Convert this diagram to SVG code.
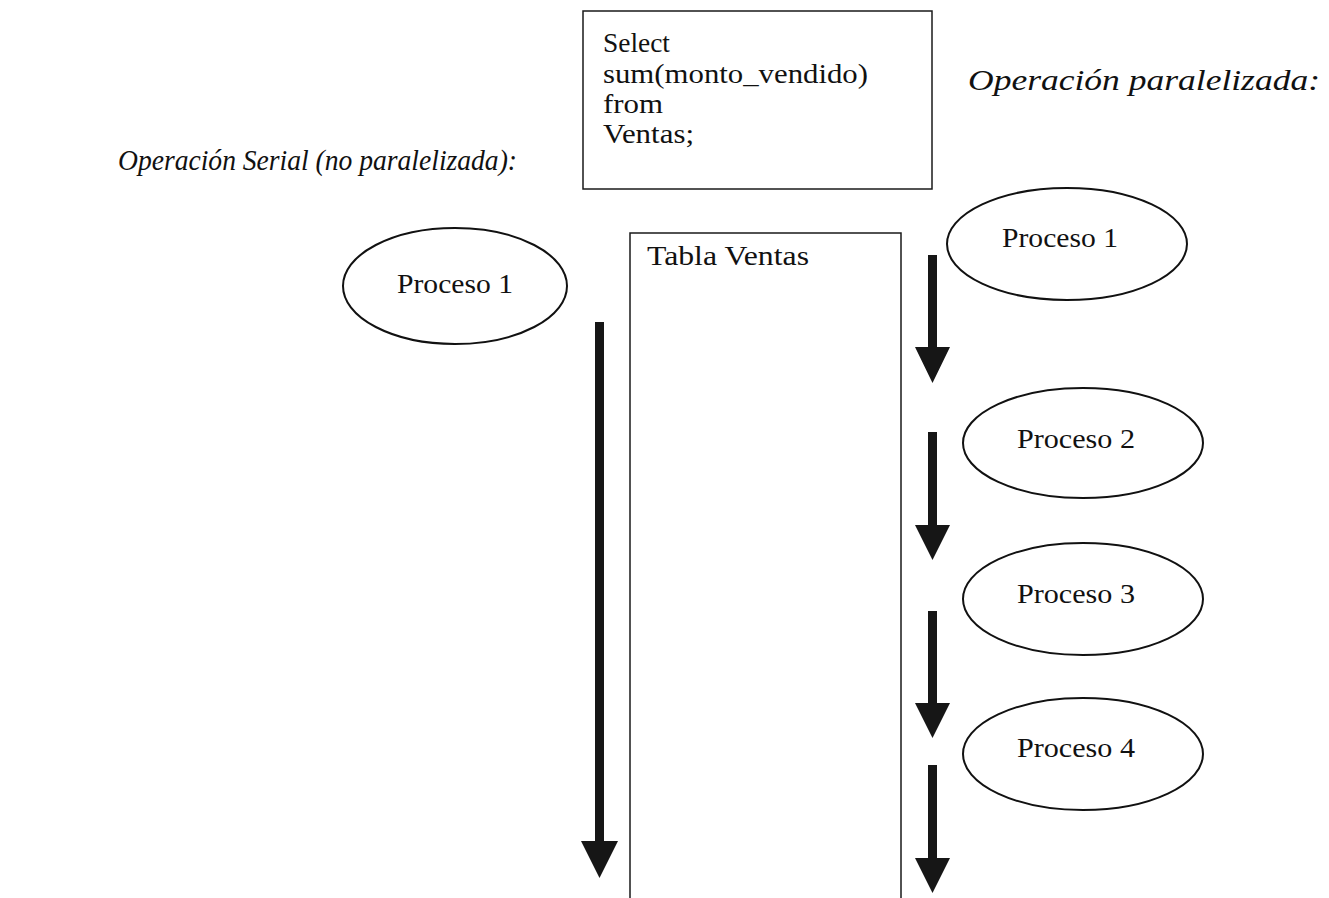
<svg xmlns="http://www.w3.org/2000/svg" width="1329" height="898" viewBox="0 0 1329 898">
<style>
  .box { fill: #fff; stroke: #1a1a1a; stroke-width: 1.5; }
  .ell { fill: #fff; stroke: #111; stroke-width: 2; }
  .txt { font-family: "Liberation Serif", "DejaVu Serif", serif; font-size: 27px; fill: #111; }
  .lbl { font-family: "Liberation Serif", "DejaVu Serif", serif; font-size: 27px; fill: #111; text-anchor: middle; }
  .ttl { font-family: "Liberation Serif", "DejaVu Serif", serif; font-size: 30px; font-style: italic; fill: #111; }
  .arr { fill: #161616; }
</style>
<rect width="1329" height="898" fill="#fff"/>
<g id="title-serial"><text class="ttl" x="118" y="170" textLength="399" lengthAdjust="spacingAndGlyphs">Operación Serial (no paralelizada):</text></g>
<g id="title-paralela"><text class="ttl" x="968" y="90" textLength="352" lengthAdjust="spacingAndGlyphs">Operación paralelizada:</text></g>
<g id="query">
  <rect class="box" x="583" y="11" width="349" height="178"/>
  <text class="txt" x="603" y="52" textLength="67" lengthAdjust="spacingAndGlyphs">Select</text>
  <text class="txt" x="603" y="83" textLength="265" lengthAdjust="spacingAndGlyphs">sum(monto_vendido)</text>
  <text class="txt" x="603" y="113" textLength="60" lengthAdjust="spacingAndGlyphs">from</text>
  <text class="txt" x="603" y="143" textLength="91" lengthAdjust="spacingAndGlyphs">Ventas;</text>
</g>
<g id="tabla">
  <path class="box" d="M630,898 V233 H901 V898"/>
  <text class="txt" x="647" y="265" textLength="162" lengthAdjust="spacingAndGlyphs">Tabla Ventas</text>
</g>
<g id="serial-p1">
  <ellipse class="ell" cx="455" cy="286" rx="112" ry="58"/>
  <text class="lbl" x="455" y="293" textLength="116" lengthAdjust="spacingAndGlyphs">Proceso 1</text>
</g>
<g id="par-p1">
  <ellipse class="ell" cx="1067" cy="244" rx="120" ry="56"/>
  <text class="lbl" x="1060" y="247" textLength="116" lengthAdjust="spacingAndGlyphs">Proceso 1</text>
</g>
<g id="par-p2">
  <ellipse class="ell" cx="1083" cy="443" rx="120" ry="55"/>
  <text class="lbl" x="1076" y="448" textLength="118" lengthAdjust="spacingAndGlyphs">Proceso 2</text>
</g>
<g id="par-p3">
  <ellipse class="ell" cx="1083" cy="599" rx="120" ry="56"/>
  <text class="lbl" x="1076" y="603" textLength="118" lengthAdjust="spacingAndGlyphs">Proceso 3</text>
</g>
<g id="par-p4">
  <ellipse class="ell" cx="1083" cy="754" rx="120" ry="56"/>
  <text class="lbl" x="1076" y="757" textLength="118" lengthAdjust="spacingAndGlyphs">Proceso 4</text>
</g>
<g id="connectors">
  <path class="arr" d="M595,322 H604 V841 H618 L599.5,878 L581,841 H595 Z"/>
  <path class="arr" d="M928,255 H937 V347 H950 L932.5,383 L915,347 H928 Z"/>
  <path class="arr" d="M928,432 H937 V525 H950 L932.5,560 L915,525 H928 Z"/>
  <path class="arr" d="M928,611 H937 V703 H950 L932.5,738 L915,703 H928 Z"/>
  <path class="arr" d="M928,765 H937 V858 H950 L932.5,893 L915,858 H928 Z"/>
</g>
</svg>
